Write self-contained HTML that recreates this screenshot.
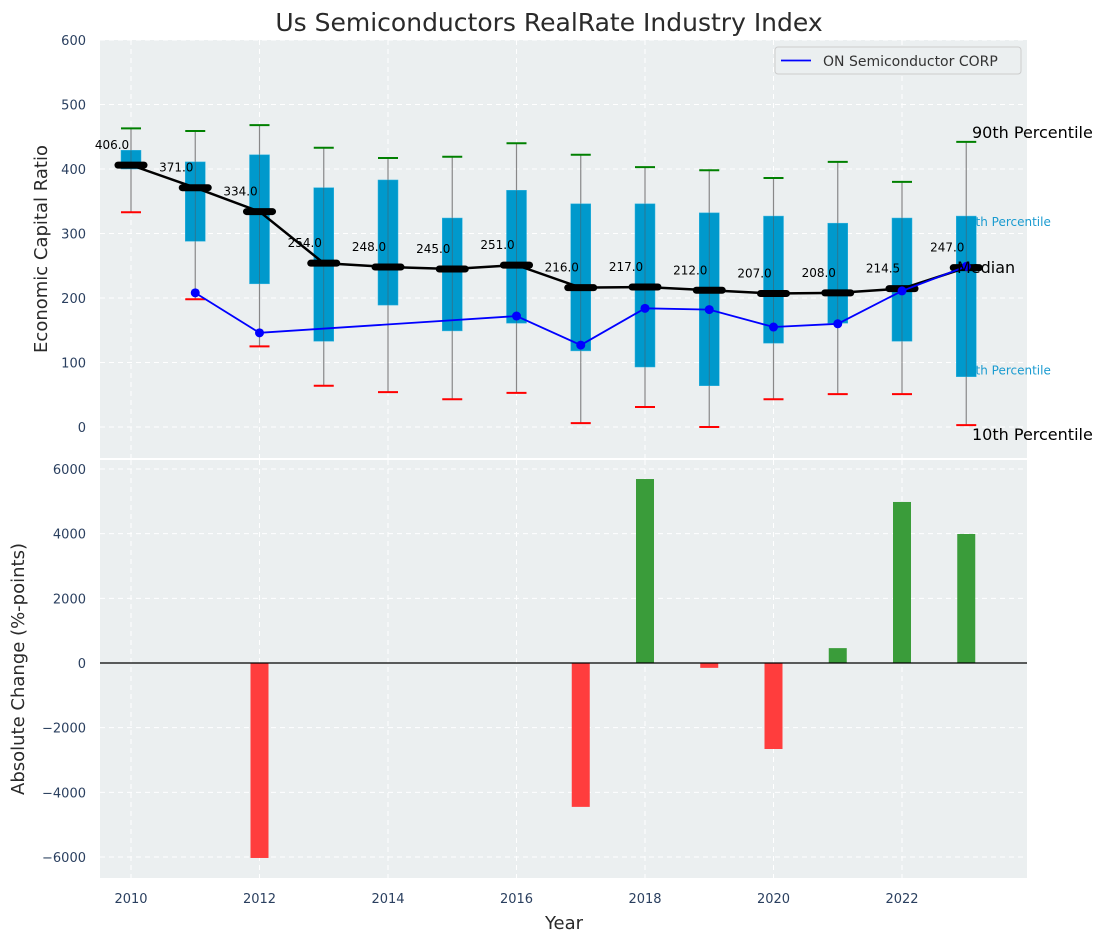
<!DOCTYPE html>
<html><head><meta charset="utf-8"><style>body{margin:0;background:#fff}svg{display:block;font-family:"DejaVu Sans","Liberation Sans",sans-serif}</style></head>
<body>
<svg id="c" width="1107" height="942"></svg>
<script>
const years=[2010,2011,2012,2013,2014,2015,2016,2017,2018,2019,2020,2021,2022,2023];
const p90=[463,459,468,433,417,419,440,422,403,398,386,411,380,442];
const q3=[429,411,422,371,383,324,367,346,346,332,327,316,324,327];
const q1=[400,288,222,133,189,149,161,118,93,64,130,161,133,78];
const p10=[333,198,125,64,54,43,53,6,31,0,43,51,51,3];
const medians=[406,371,334,254,248,245,251,216,217,212,207,208,214.5,247];
const corp=[null,208,146,null,null,null,172,127,184,182,155,160,211,249];
const changeYears=[2012,2017,2018,2019,2020,2021,2022,2023];
const changes=[-6030,-4450,5690,-150,-2660,460,4980,3990];
const topTicks=[0,100,200,300,400,500,600];
const botTicks=[-6000,-4000,-2000,0,2000,4000,6000];

const NS='http://www.w3.org/2000/svg',svg=document.getElementById('c');
function el(t,a,p){const e=document.createElementNS(NS,t);for(const k in a)e.setAttribute(k,a[k]);(p||svg).appendChild(e);return e;}
const L=100,R=1027;
const X=y=>131+(y-2010)*64.25;
const Y1=v=>427-v*0.645;
const Y2=v=>663-v*(194/6000);

let r=el('rect',{x:L,y:40,width:R-L,height:418,fill:'#ebeff0'});

r=el('rect',{x:L,y:460,width:R-L,height:418,fill:'#ebeff0'});


for(const y of years.filter(y=>y%2==0)){
  el('line',{x1:X(y),x2:X(y),y1:40,y2:458,stroke:'#fff','stroke-dasharray':'5,4'});
  el('line',{x1:X(y),x2:X(y),y1:460,y2:878,stroke:'#fff','stroke-dasharray':'5,4'});
  const t=el('text',{x:X(y),y:903,'text-anchor':'middle','font-size':13,fill:'#2a3f5f'});t.textContent=y;
  
}
for(const v of topTicks){
  el('line',{x1:L,x2:R,y1:Y1(v),y2:Y1(v),stroke:'#fff','stroke-dasharray':'5,4'});
  const t=el('text',{x:86,y:Y1(v)+5,'text-anchor':'end','font-size':13,fill:'#2a3f5f'});t.textContent=v;
  
}
for(const v of botTicks){
  el('line',{x1:L,x2:R,y1:Y2(v),y2:Y2(v),stroke:'#fff','stroke-dasharray':'5,4'});
  const t=el('text',{x:86,y:Y2(v)+5,'text-anchor':'end','font-size':13,fill:'#2a3f5f'});t.textContent=v<0?'\u2212'+(-v):v;
  
}

const ly=years.length-1;
function ann(txt,x,y,sz,col,nm){const t=el('text',{x:x,y:y,'font-size':sz,fill:col});t.textContent=txt;return t;}
ann('75th Percentile',X(years[ly])-6,Y1(q3[ly])+10,12,'#1a9bd0','q3-annotation');
ann('25th Percentile',X(years[ly])-6,Y1(q1[ly])-2,12,'#1a9bd0','q1-annotation');

years.forEach((y,i)=>{
  const x=X(y);
  let w=el('line',{x1:x,x2:x,y1:Y1(p90[i]),y2:Y1(p10[i]),stroke:'#888','stroke-width':1.2});
  
  let b=el('rect',{x:x-10,y:Y1(q3[i]),width:20,height:Y1(q1[i])-Y1(q3[i]),fill:'#0099cc',stroke:'#33b5e0','stroke-width':0.5});
  
  el('line',{x1:x,x2:x,y1:Y1(q3[i]),y2:Y1(q1[i]),stroke:'#555','stroke-width':0.8,opacity:0.6});
  let c=el('line',{x1:x-10,x2:x+10,y1:Y1(p90[i]),y2:Y1(p90[i]),stroke:'green','stroke-width':2});
  
  c=el('line',{x1:x-10,x2:x+10,y1:Y1(p10[i]),y2:Y1(p10[i]),stroke:'red','stroke-width':2});
  
});
let ml=el('polyline',{points:years.map((y,i)=>X(y)+','+Y1(medians[i])).join(' '),fill:'none',stroke:'#000','stroke-width':2.5});

years.forEach((y,i)=>{
  let m=el('line',{x1:X(y)-13,x2:X(y)+13,y1:Y1(medians[i]),y2:Y1(medians[i]),stroke:'#000','stroke-width':7,'stroke-linecap':'round'});
  
  const t=el('text',{x:X(y)-19,y:Y1(medians[i])-16,'text-anchor':'middle','font-size':12,fill:'#000'});t.textContent=medians[i].toFixed(1);
  
});
const cp=years.map((y,i)=>corp[i]==null?null:[X(y),Y1(corp[i])]).filter(p=>p);
let cl=el('polyline',{points:cp.map(p=>p.join(',')).join(' '),fill:'none',stroke:'#0000ff','stroke-width':1.8});

cp.forEach(p=>{let d=el('circle',{cx:p[0],cy:p[1],r:4.5,fill:'#0000ff'});});

ann('90th Percentile',972,138,16,'#000','p90-annotation');
ann('Median',957,273,16,'#000','median-annotation');
ann('10th Percentile',972,440,16,'#000','p10-annotation');

let lg=el('g',{});
el('rect',{x:775,y:47,width:246,height:27,rx:3,fill:'#ebeff0',stroke:'#ccc'},lg);
el('line',{x1:781,x2:811,y1:60.5,y2:60.5,stroke:'#0000ff','stroke-width':1.8},lg);
let lt=el('text',{x:823,y:66,'font-size':14,fill:'#333'},lg);lt.textContent='ON Semiconductor CORP';

changeYears.forEach((y,i)=>{
  const v=changes[i];
  let b=el('rect',{x:X(y)-9,y:Math.min(Y2(v),Y2(0)),width:18,height:Math.abs(Y2(v)-Y2(0)),fill:v>=0?'#3a9c3a':'#ff3d3d'});
  
});
el('line',{x1:L,x2:R,y1:Y2(0),y2:Y2(0),stroke:'#000','stroke-width':1.2});

let t=el('text',{x:549,y:31,'text-anchor':'middle','font-size':25,fill:'#2a2a2a'});t.textContent='Us Semiconductors RealRate Industry Index';

t=el('text',{x:564,y:929,'text-anchor':'middle','font-size':18,fill:'#2a2a2a'});t.textContent='Year';

t=el('text',{x:0,y:0,'text-anchor':'middle','font-size':18,fill:'#2a2a2a',transform:'translate(47,249) rotate(-90)'});t.textContent='Economic Capital Ratio';

t=el('text',{x:0,y:0,'text-anchor':'middle','font-size':18,fill:'#2a2a2a',transform:'translate(24,669) rotate(-90)'});t.textContent='Absolute Change (%-points)';

</script>
</body></html>
